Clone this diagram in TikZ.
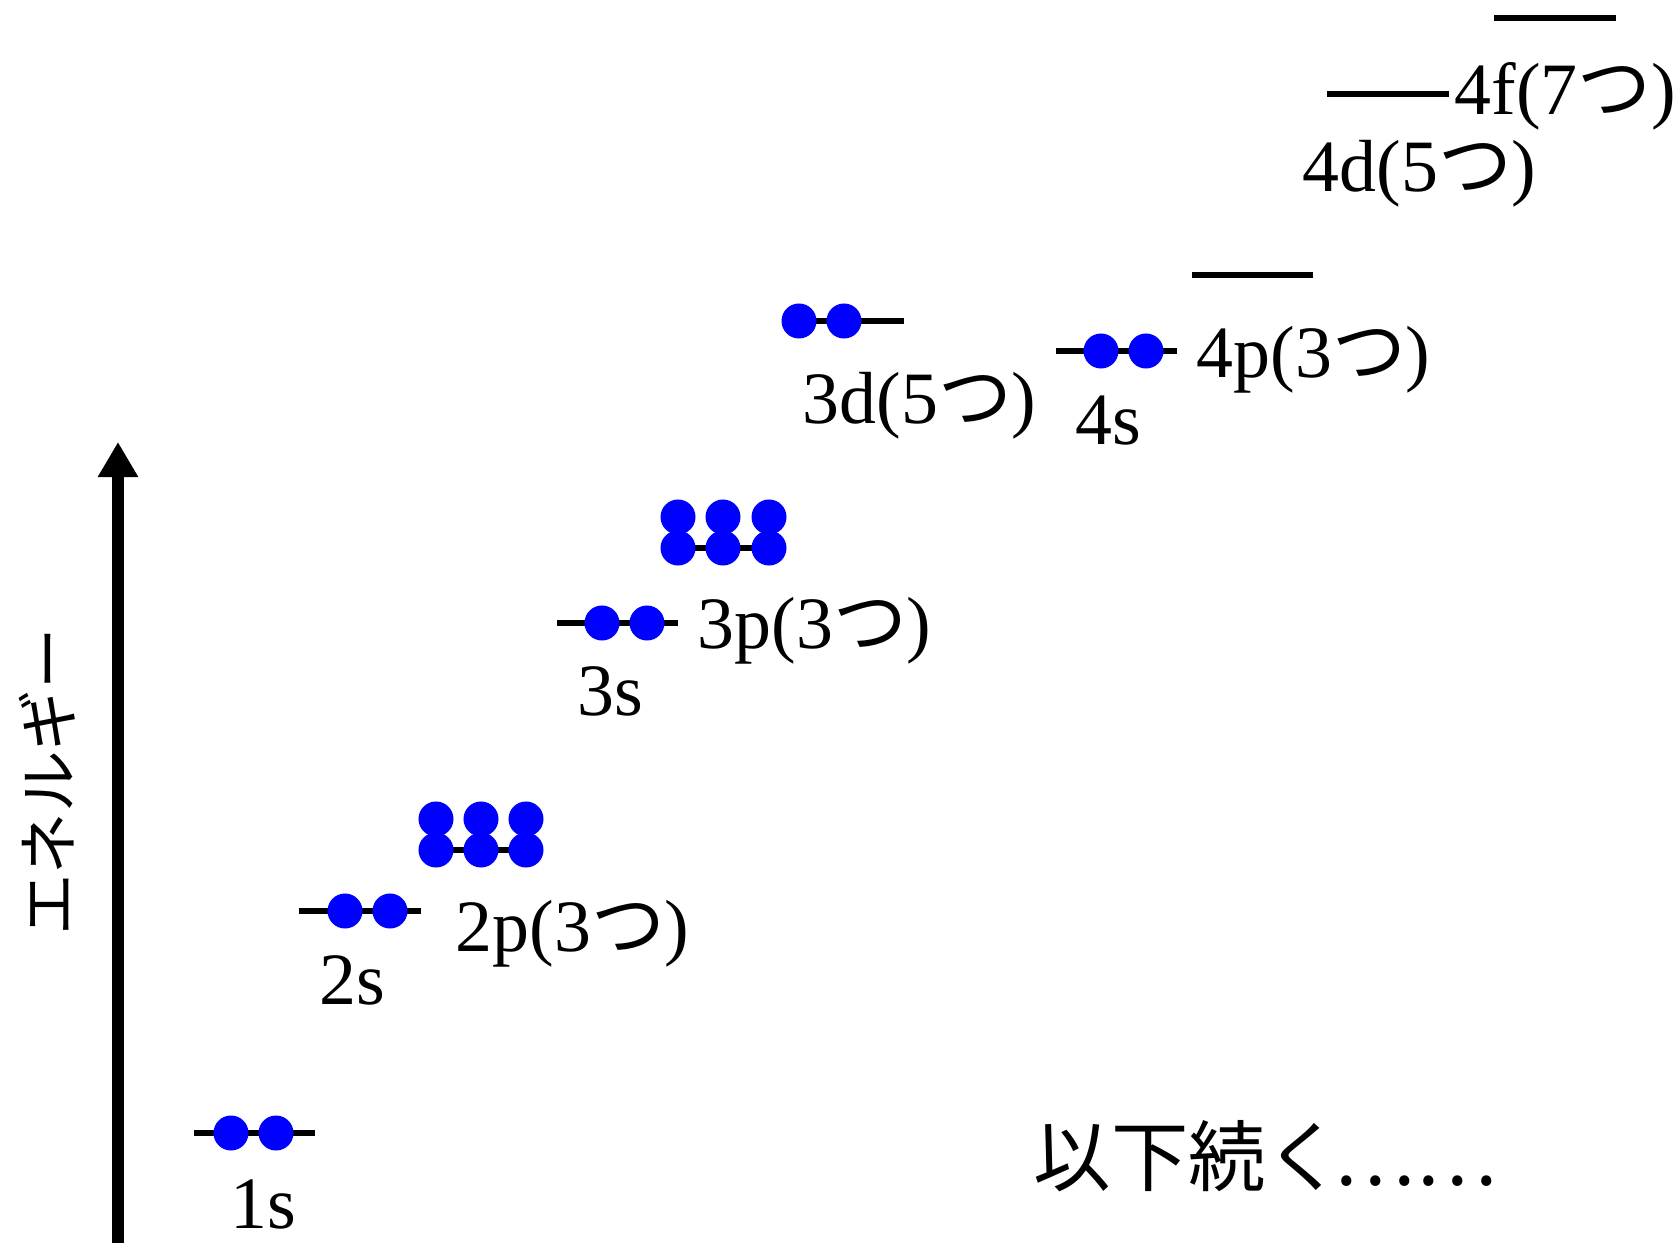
\documentclass[tikz,border=0pt]{standalone}
\usepackage{fontspec}
\setmainfont{Liberation Serif}
\newfontfamily\jpfont{Noto Sans CJK JP}
\usetikzlibrary{arrows.meta}

\begin{document}
\begin{tikzpicture}[x=0.01cm,y=-0.01cm,
  lvl/.style={rectangle,fill=black,inner sep=0,minimum width=1.21cm,minimum height=0.06cm},
  elec/.style={circle,fill=blue,inner sep=0,minimum size=0.35cm},
  lbl/.style={anchor=base west,inner sep=0,font=\fontsize{21}{25}\selectfont}]
\useasboundingbox (0,0) rectangle (1679,1243);
\coordinate (axbot) at (118,1243);
\coordinate (axtop) at (118,442);
\draw[-{Triangle[length=0.35cm,width=0.38cm]},line width=3.2pt] (axbot) -- (axtop);
\node[rotate=90,inner sep=0,font=\jpfont\fontsize{17.5}{20}\selectfont] (energy) at (47,782) {エネルギー};
\node[lvl] (o1s) at (254.5,1133) {};
\node[elec] (e1sa) at (231,1133) {};
\node[elec] (e1sb) at (276,1133) {};
\node[lbl] (t1s) at (230,1228) {1s};
\node[lvl] (o2s) at (360,911) {};
\node[elec] (e2sa) at (345,911) {};
\node[elec] (e2sb) at (390,911) {};
\node[lbl] (t2s) at (319,1004) {2s};
\node[lvl] (o2p) at (481,850) {};
\node[elec] (e2pa) at (436,850) {};
\node[elec] (e2pb) at (481,850) {};
\node[elec] (e2pc) at (526,850) {};
\node[elec] (e2pd) at (436,819) {};
\node[elec] (e2pe) at (481,819) {};
\node[elec] (e2pf) at (526,819) {};
\node[lbl] (t2p) at (455,951) {2p(3{\jpfont つ})};
\node[lvl] (o3s) at (617.5,623) {};
\node[elec] (e3sa) at (602,623) {};
\node[elec] (e3sb) at (647,623) {};
\node[lbl] (t3s) at (577,715) {3s};
\node[lvl] (o3p) at (723,548) {};
\node[elec] (e3pa) at (678,548) {};
\node[elec] (e3pb) at (723,548) {};
\node[elec] (e3pc) at (769,548) {};
\node[elec] (e3pd) at (678,517) {};
\node[elec] (e3pe) at (723,517) {};
\node[elec] (e3pf) at (769,517) {};
\node[lbl] (t3p) at (697,648) {3p(3{\jpfont つ})};
\node[lvl] (o3d) at (843.5,321) {};
\node[elec] (e3da) at (799,321) {};
\node[elec] (e3db) at (844,321) {};
\node[lbl] (t3d) at (802,423) {3d(5{\jpfont つ})};
\node[lvl] (o4s) at (1116.5,351) {};
\node[elec] (e4sa) at (1101,351) {};
\node[elec] (e4sb) at (1146,351) {};
\node[lbl] (t4s) at (1075,445) {4s};
\node[lvl] (o4p) at (1252.5,275) {};
\node[lbl] (t4p) at (1196,377) {4p(3{\jpfont つ})};
\node[lvl] (o4d) at (1388,94) {};
\node[lbl] (t4d) at (1302,192) {4d(5{\jpfont つ})};
\node[lvl] (o4f) at (1555,18) {};
\node[lbl] (t4f) at (1454,115) {4f(7{\jpfont つ})};
\node[anchor=base west,inner sep=0,font=\jpfont\fontsize{22}{26}\selectfont] (more) at (1033,1185) {以下続く\hspace{-0.12em}……};
\end{tikzpicture}
\end{document}
